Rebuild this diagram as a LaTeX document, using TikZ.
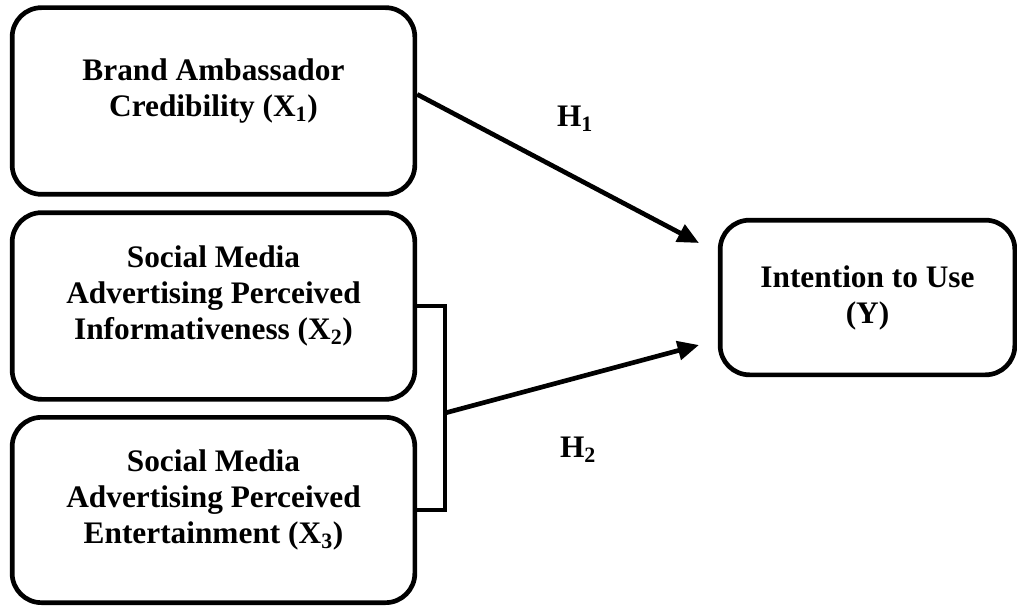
\documentclass[tikz,border=0pt]{standalone}
\usepackage{fontspec}
\setmainfont{Liberation Serif}
\usetikzlibrary{arrows.meta}

\tikzset{
  var/.style={draw, line width=3.5pt, rounded corners=22pt, align=center,
              font=\bfseries\fontsize{23.5}{27}\selectfont},
  indep/.style={var, minimum width=302pt, text depth=20pt},
  hyp/.style={font=\bfseries\fontsize{23.5}{27}\selectfont},
  path/.style={line width=3.5pt, -{Triangle[length=16pt, width=14pt]}}
}

\begin{document}
\begin{tikzpicture}[x=0.75pt, y=-0.75pt]
\useasboundingbox (0,0) rectangle (1017,606);
\node[indep, minimum height=140pt] (x1) at (213.5,101)
  {Brand Ambassador\\Credibility (X\textsubscript{1})};
\node[indep, minimum height=140pt] (x2) at (213.5,306)
  {Social Media\\Advertising Perceived\\Informativeness (X\textsubscript{2})};
\node[indep, minimum height=139pt] (x3) at (213.5,510)
  {Social Media\\Advertising Perceived\\Entertainment (X\textsubscript{3})};
\node[var, minimum width=221pt, minimum height=116pt] (y) at (867.5,297.5)
  {Intention to Use\\(Y)};
\node[hyp] (h1) at (575,119) {H\textsubscript{1}};
\node[hyp] (h2) at (578,450) {H\textsubscript{2}};

\coordinate (brk) at (445,413);
\coordinate (t1) at (699,243);
\coordinate (t2) at (699,345);
\draw[line width=3.5pt] (x2.east) -| (brk) |- (x3.east);
\draw[path] ([yshift=5pt]x1.east) -- (t1);
\draw[path] (brk) -- (t2);
\end{tikzpicture}
\end{document}
